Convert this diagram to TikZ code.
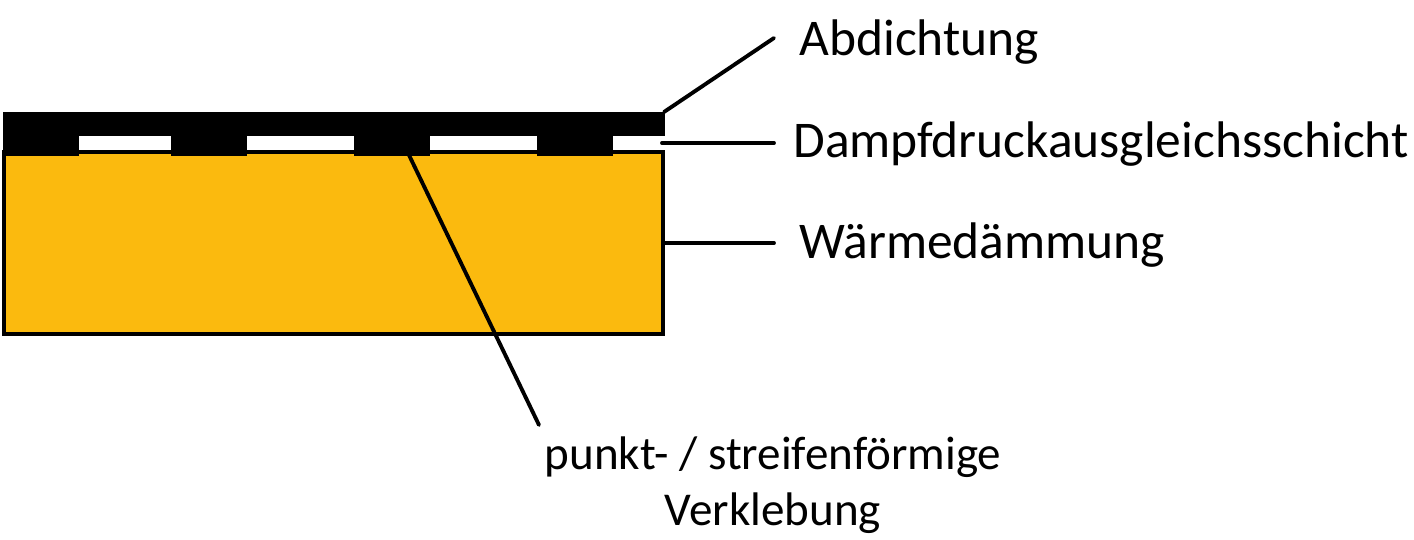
\documentclass[tikz,border=0pt]{standalone}
\usepackage{fontspec}
\setmainfont{Carlito}
\usetikzlibrary{positioning}
\definecolor{daemmung}{RGB}{251,186,14}
\tikzset{
	lbl/.style={inner sep=0pt,font=\fontsize{29.3pt}{35pt}\selectfont,anchor=base west},
	lblsmall/.style={inner sep=0pt,font=\fontsize{26.8pt}{32pt}\selectfont,anchor=base},
	leader/.style={line width=2.2pt,line cap=round},
}
\begin{document}
\begin{tikzpicture}[x=0.02cm,y=-0.02cm]
		\useasboundingbox (0,0) rectangle (1414,540);
		% insulation
		\draw[fill=daemmung,line width=2.2pt](4,152)rectangle(663,334);
		% sealing sheet and strips
		\fill(3,112)rectangle(665,136);
		\foreach \x in{3,171,354,537}
		\fill(\x,130)rectangle(\x+76,156);
		% labels
		\node[lbl](abd) at (799,56){Abdichtung};
		\node[lbl](dampf) at (793,158){Dampfdruckausgleichsschicht};
		\node[lbl](waerme) at (799,259){Wärmedämmung};
		\node[lblsmall](punkt) at (773,470){punkt- / streifenförmige};
		\node[lblsmall](verkl) at (773,526){Verklebung};
		% leaders
		\coordinate(abdend) at (664,112);
		\coordinate(abdtip) at (774,38);
		\coordinate(dampfend) at (662,143);
		\coordinate(dampftip) at (774,143);
		\coordinate(waermeend) at (664,243);
		\coordinate(waermetip) at (774,243);
		\coordinate(punktend) at (408,153);
		\coordinate(punkttip) at (539,425);
		\draw[leader](abdend)--(abdtip);
		\draw[leader](dampfend)--(dampftip);
		\draw[leader](waermeend)--(waermetip);
		\draw[leader](punktend)--(punkttip);
	\end{tikzpicture}
\end{document}
